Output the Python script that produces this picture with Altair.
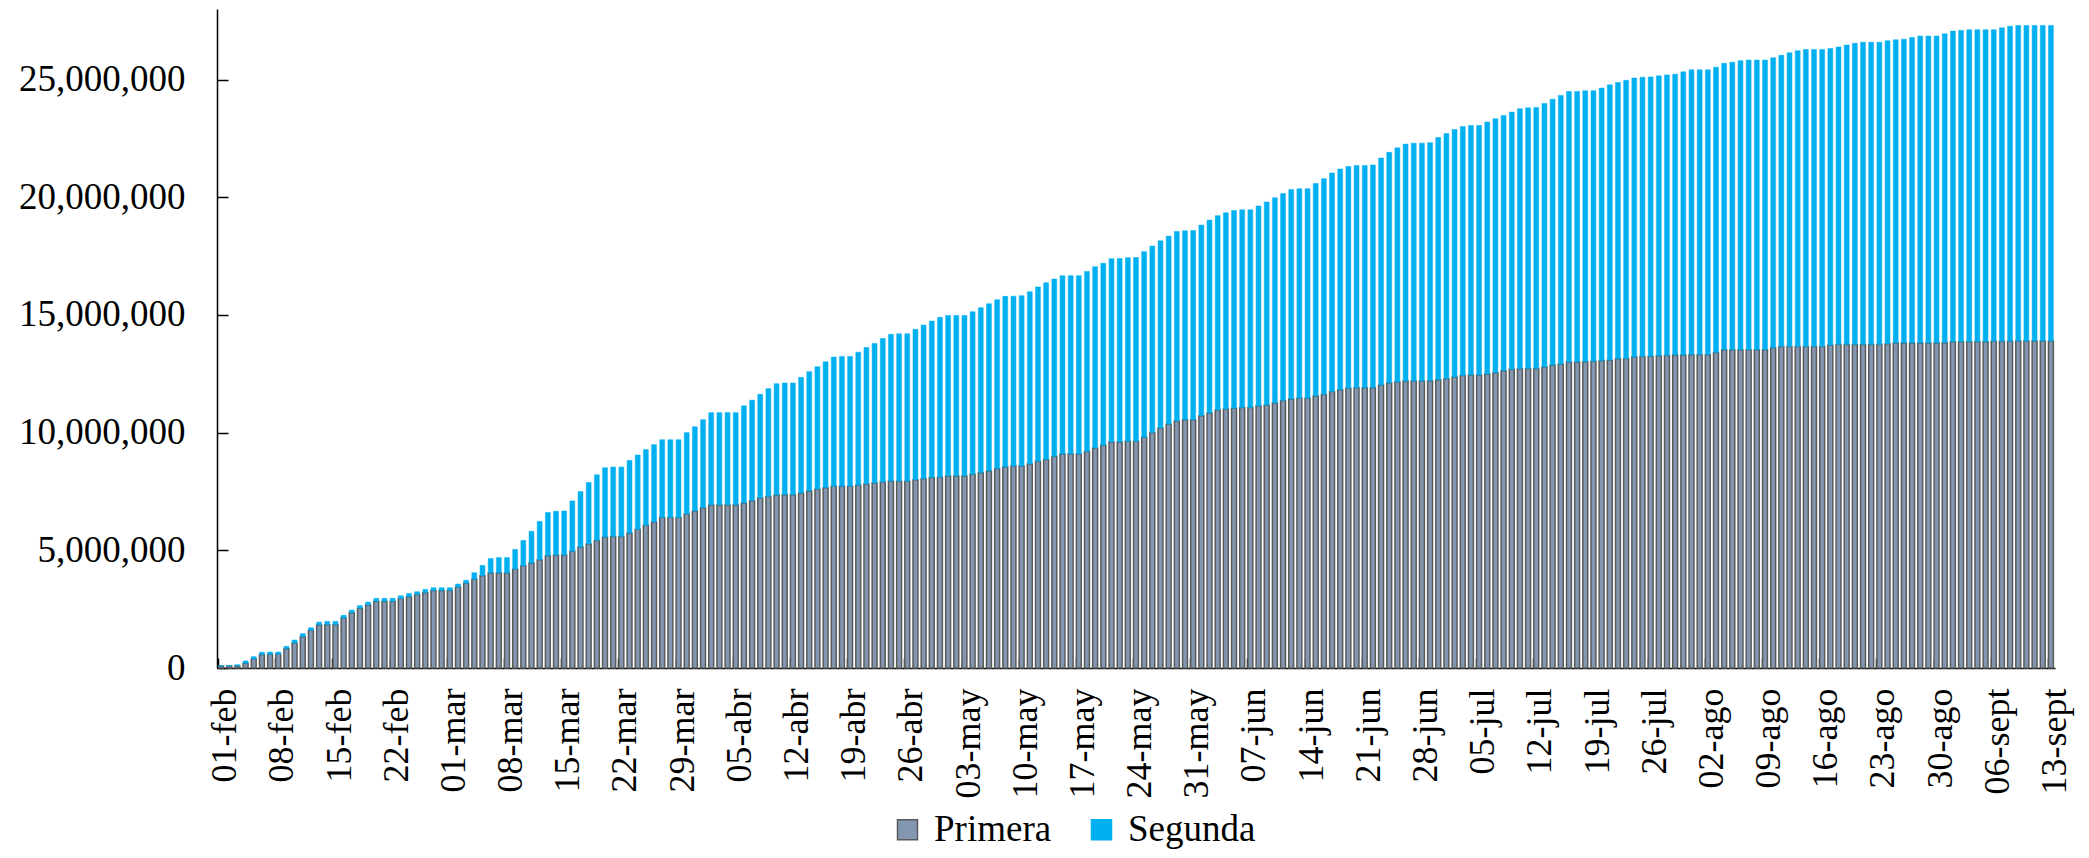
import altair as alt
import pandas as pd

# ---- categories (daily, 01-feb .. 13-sept) ----
meses = {2: "feb", 3: "mar", 4: "abr", 5: "may", 6: "jun", 7: "jul", 8: "ago", 9: "sept"}
dias = pd.date_range("2021-02-01", "2021-09-13", freq="D")
fechas = [f"{d.day:02d}-{meses[d.month]}" for d in dias]
etiquetas = fechas[::7]

series = ["Primera", "Segunda"]
colores = ["#8497B0", "#00B0F0"]
bordes = ["#5a5a5a", "#00B0F0"]
y_ticks = [0, 5000000, 10000000, 15000000, 20000000, 25000000]

# ---- values (millions) ----
primera_m = [
    0.08, 0.08, 0.09, 0.20, 0.38, 0.57, 0.58, 0.58, 0.82, 1.06, 1.33, 1.60, 1.83, 1.84, 1.84,
    2.12, 2.35, 2.54, 2.68, 2.83, 2.83, 2.83, 2.95, 3.03, 3.12, 3.20, 3.29, 3.29, 3.29, 3.44,
    3.60, 3.77, 3.92, 4.04, 4.04, 4.04, 4.20, 4.34, 4.46, 4.60, 4.77, 4.80, 4.80, 4.96, 5.14,
    5.27, 5.42, 5.56, 5.59, 5.59, 5.73, 5.89, 6.06, 6.20, 6.39, 6.39, 6.39, 6.54, 6.67, 6.81,
    6.93, 6.93, 6.93, 6.93, 7.01, 7.11, 7.22, 7.29, 7.35, 7.36, 7.36, 7.43, 7.52, 7.60, 7.66,
    7.72, 7.72, 7.72, 7.77, 7.82, 7.86, 7.90, 7.94, 7.94, 7.94, 8.00, 8.04, 8.09, 8.11, 8.16,
    8.16, 8.16, 8.23, 8.30, 8.37, 8.47, 8.54, 8.58, 8.58, 8.67, 8.78, 8.86, 8.99, 9.09, 9.09,
    9.09, 9.20, 9.35, 9.46, 9.60, 9.60, 9.63, 9.63, 9.80, 10.01, 10.20, 10.36, 10.50, 10.55, 10.55,
    10.72, 10.83, 10.96, 11.00, 11.04, 11.07, 11.07, 11.13, 11.17, 11.26, 11.37, 11.43, 11.46, 11.46, 11.56,
    11.62, 11.75, 11.82, 11.89, 11.91, 11.91, 11.91, 12.02, 12.11, 12.15, 12.19, 12.19, 12.19, 12.21, 12.25,
    12.29, 12.36, 12.43, 12.45, 12.45, 12.49, 12.55, 12.63, 12.69, 12.72, 12.73, 12.73, 12.79, 12.87, 12.91,
    13.00, 13.00, 13.01, 13.03, 13.05, 13.08, 13.14, 13.15, 13.21, 13.24, 13.24, 13.27, 13.28, 13.30, 13.30,
    13.31, 13.31, 13.31, 13.40, 13.52, 13.52, 13.52, 13.52, 13.52, 13.52, 13.61, 13.66, 13.66, 13.66, 13.66,
    13.66, 13.66, 13.71, 13.75, 13.75, 13.75, 13.75, 13.75, 13.75, 13.78, 13.81, 13.81, 13.81, 13.81, 13.81,
    13.81, 13.82, 13.86, 13.86, 13.86, 13.86, 13.86, 13.88, 13.88, 13.88, 13.89, 13.89, 13.89, 13.89, 13.89,
]

total_m = [
    0.10, 0.11, 0.14, 0.30, 0.48, 0.67, 0.68, 0.68, 0.92, 1.19, 1.46, 1.71, 1.95, 1.98, 1.98,
    2.24, 2.46, 2.65, 2.80, 2.96, 2.96, 2.96, 3.07, 3.17, 3.24, 3.34, 3.41, 3.41, 3.41, 3.57,
    3.73, 4.05, 4.36, 4.65, 4.69, 4.69, 5.04, 5.42, 5.81, 6.23, 6.61, 6.66, 6.67, 7.10, 7.50,
    7.88, 8.21, 8.51, 8.54, 8.54, 8.82, 9.05, 9.28, 9.49, 9.70, 9.70, 9.70, 10.00, 10.25, 10.55,
    10.85, 10.85, 10.85, 10.85, 11.14, 11.38, 11.63, 11.87, 12.08, 12.11, 12.11, 12.35, 12.59, 12.80, 13.01,
    13.21, 13.24, 13.24, 13.42, 13.62, 13.79, 14.00, 14.18, 14.20, 14.20, 14.39, 14.57, 14.74, 14.90, 14.98,
    14.98, 14.98, 15.14, 15.31, 15.48, 15.65, 15.79, 15.80, 15.82, 15.99, 16.19, 16.37, 16.53, 16.67, 16.67,
    16.67, 16.85, 17.05, 17.20, 17.39, 17.40, 17.43, 17.44, 17.69, 17.93, 18.15, 18.35, 18.55, 18.58, 18.59,
    18.82, 19.03, 19.22, 19.34, 19.44, 19.47, 19.47, 19.63, 19.80, 19.98, 20.16, 20.33, 20.36, 20.36, 20.59,
    20.79, 21.03, 21.20, 21.31, 21.35, 21.35, 21.37, 21.67, 21.91, 22.10, 22.26, 22.30, 22.30, 22.32, 22.54,
    22.71, 22.88, 23.01, 23.05, 23.05, 23.20, 23.34, 23.48, 23.62, 23.76, 23.80, 23.82, 23.99, 24.17, 24.33,
    24.50, 24.50, 24.53, 24.53, 24.64, 24.78, 24.88, 24.97, 25.07, 25.10, 25.11, 25.16, 25.20, 25.23, 25.33,
    25.42, 25.42, 25.42, 25.53, 25.69, 25.74, 25.80, 25.83, 25.83, 25.83, 25.93, 26.03, 26.14, 26.23, 26.28,
    26.28, 26.28, 26.32, 26.39, 26.47, 26.54, 26.59, 26.59, 26.59, 26.65, 26.69, 26.72, 26.79, 26.85, 26.85,
    26.85, 26.95, 27.06, 27.09, 27.12, 27.12, 27.12, 27.12, 27.20, 27.27, 27.30, 27.30, 27.30, 27.30, 27.30,
]

rows = []
for f, p, t in zip(fechas, primera_m, total_m):
    rows.append({"fecha": f, "serie": "Primera", "base": 0, "tope": round(p * 1e6)})
    rows.append({"fecha": f, "serie": "Segunda", "base": round(p * 1e6), "tope": round(t * 1e6)})
df = pd.DataFrame(rows)

FONT = "Liberation Serif"
W, H = 1838, 659
STEP = W / len(fechas)

leyenda = alt.Legend(
    title=None, orient="none", legendX=672, legendY=802, direction="horizontal",
    symbolType="square", symbolSize=400, symbolStrokeWidth=1.5,
    labelFont=FONT, labelFontSize=37, labelColor="black", labelOffset=8,
    columnPadding=31, padding=0,
)

chart = alt.Chart(df).mark_bar().encode(
    x=alt.X("fecha:N", sort=fechas,
            scale=alt.Scale(domain=fechas, paddingInner=0.4, paddingOuter=0.2),
            axis=alt.Axis(values=etiquetas, labelAngle=270, bandPosition=0, labelOffset=STEP / 2,
                          ticks=False, labelPadding=20, labelFont=FONT, labelFontSize=36,
                          labelColor="black", domainColor="black", domainWidth=1.5, title=None,
                          grid=True, gridColor="black", gridWidth=1.5,
                          gridDash=[0, H - 10, 10, 3000])),
    y=alt.Y("tope:Q", scale=alt.Scale(domain=[0, 28000000], nice=False),
            axis=alt.Axis(values=y_ticks, format=",d", ticks=False, labelPadding=32,
                          labelFont=FONT, labelFontSize=37, labelColor="black",
                          domainColor="black", domainWidth=1.5, title=None,
                          grid=True, gridColor="black", gridWidth=1.5, gridDash=[11, 3000])),
    y2="base:Q",
    fill=alt.Fill("serie:N", scale=alt.Scale(domain=series, range=colores), legend=leyenda),
    stroke=alt.Stroke("serie:N", scale=alt.Scale(domain=series, range=bordes), legend=leyenda),
    strokeWidth=alt.condition(alt.datum.serie == "Primera", alt.value(1.5), alt.value(0.5)),
).properties(
    width=W, height=H,
    autosize=alt.AutoSizeParams(type="none"),
    padding={"left": 209, "top": 1, "right": 26, "bottom": 182},
).configure_view(strokeWidth=0)

chart.save("out.html", embed_options={"renderer": "svg", "actions": False})
